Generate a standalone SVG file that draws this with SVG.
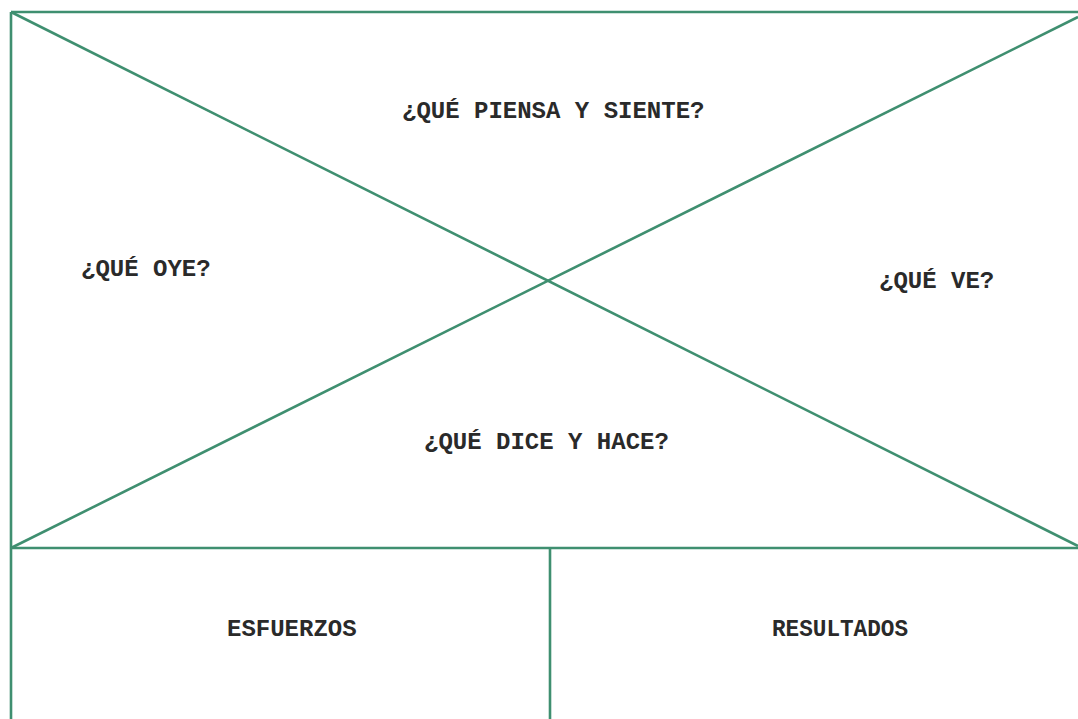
<svg xmlns="http://www.w3.org/2000/svg" width="1078" height="719" viewBox="0 0 1078 719">
<style>
.ln{stroke:#3f8f70;stroke-width:2.6;fill:none}
.t{font-family:"Liberation Mono","Courier New",monospace;font-weight:bold;font-size:24px;fill:#2a2a2a}
</style>
<rect width="1078" height="719" fill="#fff"/>
<g id="connectors">
<line class="ln" x1="11" y1="12" x2="1078" y2="12"/>
<line class="ln" x1="11" y1="12" x2="11" y2="719"/>
<line class="ln" x1="11" y1="548" x2="1078" y2="548"/>
<line class="ln" x1="550" y1="548" x2="550" y2="719"/>
<line class="ln" x1="11" y1="12" x2="1078" y2="546"/>
<line class="ln" x1="11" y1="548" x2="1078" y2="17"/>
</g>
<g id="piensa"><text class="t" x="402" y="118">¿QUÉ PIENSA Y SIENTE?</text></g>
<g id="oye"><text class="t" x="81" y="276">¿QUÉ OYE?</text></g>
<g id="ve"><text class="t" x="879" y="288">¿QUÉ VE?</text></g>
<g id="dice"><text class="t" x="424" y="449">¿QUÉ DICE Y HACE?</text></g>
<g id="esfuerzos"><text class="t" x="227" y="636">ESFUERZOS</text></g>
<g id="resultados"><text class="t" x="772" y="636" textLength="136" lengthAdjust="spacingAndGlyphs">RESULTADOS</text></g>
</svg>
